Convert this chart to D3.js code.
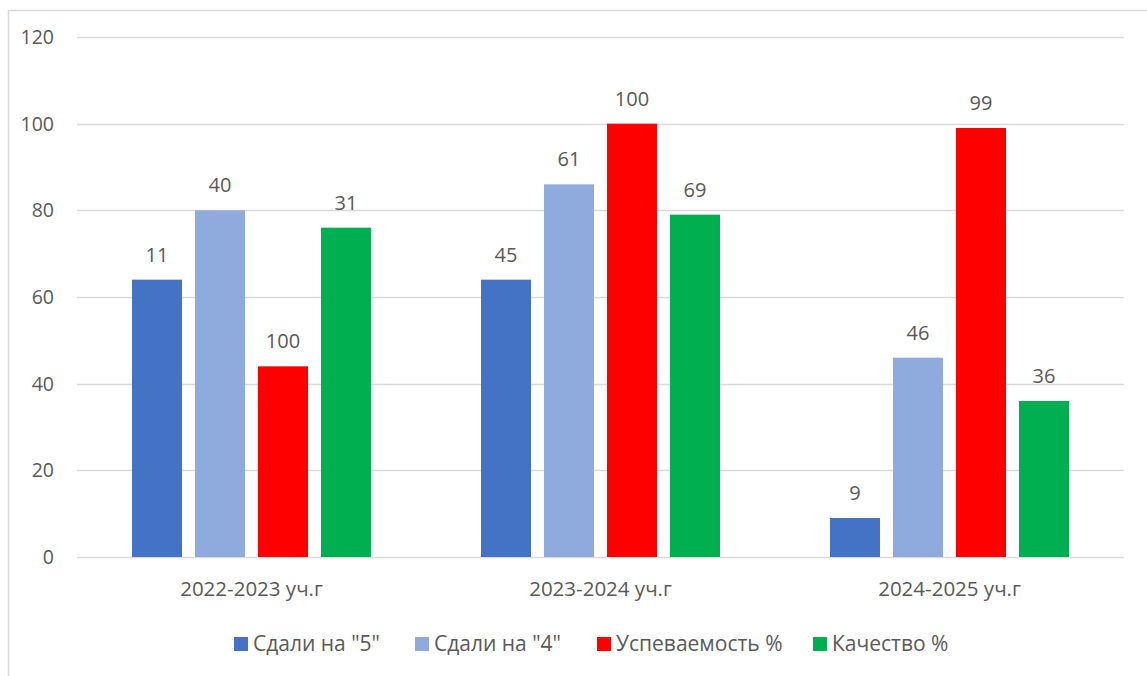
<!DOCTYPE html>
<html>
<head>
<meta charset="utf-8">
<script src="https://cdn.jsdelivr.net/npm/d3@7"></script>
<style>
  body { margin: 0; background: #fff; }
  svg text { font-family: "Open Sans", "Noto Sans", sans-serif; fill: #595959; }
</style>
</head>
<body>
<div id="chart"></div>
<script>
// categories and series
const years = ["2022-2023 уч.г", "2023-2024 уч.г", "2024-2025 уч.г"];
const seriesNames = ["Сдали на \"5\"", "Сдали на \"4\"", "Успеваемость %", "Качество %"];
const seriesColors = ["#4472c4", "#8faadc", "#ff0000", "#00b050"];
const barValues = [
    [64, 80, 44, 76],
    [64, 86, 100, 79],
    [9, 46, 99, 36]
];
// data labels shown above the bars
const barLabels = [
    [11, 40, 100, 31],
    [45, 61, 100, 69],
    [9, 46, 99, 36]
];
const yTicks = [0, 20, 40, 60, 80, 100, 120];

const width = 1147, height = 676;
const plot = { left: 77, right: 1124, top: 37, bottom: 557 };

const svg = d3.select("#chart").append("svg")
    .attr("width", width)
    .attr("height", height);

// chart frame (only left and top edges are visible)
svg.append("rect")
    .attr("x", 8.5).attr("y", 10.5)
    .attr("width", 1300).attr("height", 800)
    .attr("fill", "none")
    .attr("stroke", "#d9d9d9")
    .attr("stroke-width", 1.5);

const y = d3.scaleLinear().domain([0, 120]).range([plot.bottom, plot.top]);

const x0 = d3.scaleBand().domain(years).range([plot.left, plot.right]);
const x1 = d3.scaleBand().domain(seriesNames)
    .range([55, x0.bandwidth() - 55])
    .paddingInner(13 / 63)
    .paddingOuter(0);

// gridlines
svg.append("g")
    .selectAll("line")
    .data(yTicks)
    .join("line")
    .attr("x1", plot.left).attr("x2", plot.right)
    .attr("y1", d => Math.round(y(d)) + 0.5)
    .attr("y2", d => Math.round(y(d)) + 0.5)
    .attr("stroke", "#d9d9d9")
    .attr("stroke-width", 1.3);

// y tick labels
svg.append("g")
    .selectAll("text")
    .data(yTicks)
    .join("text")
    .attr("x", 54)
    .attr("y", d => y(d) + 7)
    .attr("text-anchor", "end")
    .style("font-size", "19.5px")
    .text(d => d);

// bars
const groups = svg.append("g")
    .selectAll("g")
    .data(years)
    .join("g")
    .attr("transform", d => `translate(${x0(d)},0)`);

const cells = (d, i) => seriesNames.map((s, j) => ({ s, j, v: barValues[i][j], label: barLabels[i][j] }));

groups.selectAll("rect")
    .data(cells)
    .join("rect")
    .attr("x", d => x1(d.s))
    .attr("y", d => y(d.v))
    .attr("width", x1.bandwidth())
    .attr("height", d => y(0) - y(d.v))
    .attr("fill", d => seriesColors[d.j]);

groups.selectAll("text")
    .data(cells)
    .join("text")
    .attr("x", d => x1(d.s) + x1.bandwidth() / 2)
    .attr("y", d => y(d.v) - 18)
    .attr("text-anchor", "middle")
    .style("font-size", "20px")
    .text(d => d.label);

// x category labels
svg.append("g")
    .selectAll("text")
    .data(years)
    .join("text")
    .attr("x", d => x0(d) + x0.bandwidth() / 2)
    .attr("y", 596)
    .attr("text-anchor", "middle")
    .style("font-size", "20.5px")
    .text(d => d);

// legend
const legendX = [234, 415, 597, 813];
const legend = svg.append("g")
    .selectAll("g")
    .data(seriesNames)
    .join("g")
    .attr("transform", (d, i) => `translate(${legendX[i]},637)`);

legend.append("rect")
    .attr("width", 14).attr("height", 14)
    .attr("fill", (d, i) => seriesColors[i]);

legend.append("text")
    .attr("x", 19)
    .attr("y", 14)
    .style("font-size", "21px")
    .text(d => d);
</script>
</body>
</html>
